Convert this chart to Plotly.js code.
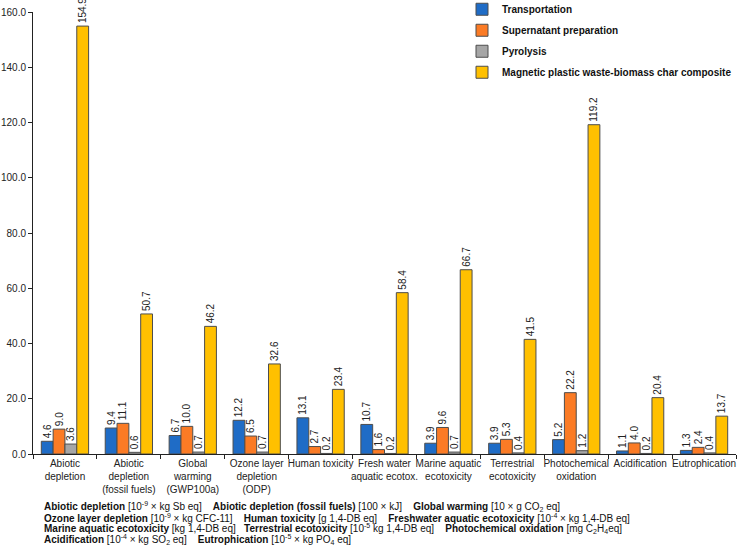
<!DOCTYPE html>
<html>
<head>
<meta charset="utf-8">
<script src="https://cdn.plot.ly/plotly-3.0.1.min.js"></script>
<style>html,body{margin:0;padding:0;background:#fff}#chart{width:738px;height:556px}</style>
</head>
<body>
<div id="chart"></div>
<script>
const categories = [
  "Abiotic<br>depletion",
  "Abiotic<br>depletion<br>(fossil fuels)",
  "Global<br>warming<br>(GWP100a)",
  "Ozone layer<br>depletion<br>(ODP)",
  "Human toxicity",
  "Fresh water<br>aquatic ecotox.",
  "Marine aquatic<br>ecotoxicity",
  "Terrestrial<br>ecotoxicity",
  "Photochemical<br>oxidation",
  "Acidification",
  "Eutrophication"
];
const transportation = [4.6, 9.4, 6.7, 12.2, 13.1, 10.7, 3.9, 3.9, 5.2, 1.1, 1.3];
const supernatant = [9.0, 11.1, 10.0, 6.5, 2.7, 1.6, 9.6, 5.3, 22.2, 4.0, 2.4];
const pyrolysis = [3.6, 0.6, 0.7, 0.7, 0.2, 0.2, 0.7, 0.4, 1.2, 0.2, 0.4];
const composite = [154.9, 50.7, 46.2, 32.6, 23.4, 58.4, 66.7, 41.5, 119.2, 20.4, 13.7];
const seriesNames = ["Transportation", "Supernatant preparation", "Pyrolysis", "Magnetic plastic waste-biomass char composite"];
const yTicks = [0, 20, 40, 60, 80, 100, 120, 140, 160];
const noteLines = [
  "<b>Abiotic depletion</b> [10<sup>-9</sup> × kg Sb eq]\u00a0\u00a0\u00a0 <b>Abiotic depletion (fossil fuels)</b> [100 × kJ]\u00a0\u00a0\u00a0 <b>Global warming</b> [10 × g CO<sub>2</sub> eq]",
  "<b>Ozone layer depletion</b> [10<sup>-9</sup> × kg CFC-11]\u00a0\u00a0\u00a0 <b>Human toxicity</b> [g 1,4-DB eq]\u00a0\u00a0\u00a0 <b>Freshwater aquatic ecotoxicity</b> [10<sup>-4</sup> × kg 1,4-DB eq]",
  "<b>Marine aquatic ecotoxicity</b> [kg 1,4-DB eq]\u00a0\u00a0 <b>Terrestrial ecotoxicity</b> [10<sup>-5</sup> kg 1,4-DB eq]\u00a0\u00a0\u00a0 <b>Photochemical oxidation</b> [mg C<sub>2</sub>H<sub>4</sub>eq]",
  "<b>Acidification</b> [10<sup>-4</sup> × kg SO<sub>2</sub> eq]\u00a0\u00a0\u00a0 <b>Eutrophication</b> [10<sup>-5</sup> × kg PO<sub>4</sub> eq]"
];

const colors = ["#1f6cc6", "#fb7b25", "#a6a6a6", "#ffc000"];
const values = [transportation, supernatant, pyrolysis, composite];
const FONT = "Liberation Sans, Arial, sans-serif";

const traces = values.map((v, i) => ({
  type: "bar",
  name: seriesNames[i],
  x: categories,
  y: v,
  legendgroup: "g" + i,
  marker: {color: colors[i], line: {color: "#4d4d4d", width: 1}},
  text: v.map(d => d.toFixed(1)),
  textposition: "outside",
  textangle: -90,
  constraintext: "none",
  cliponaxis: false,
  textfont: {family: FONT, size: 10, color: "#222"},
  hoverinfo: "x+y+name"
}));

const annotations = noteLines.map((t, i) => ({
  text: t,
  xref: "paper", yref: "paper",
  x: (42 - 33) / 703,
  y: (454 - (506.5 + i * 11)) / 442,
  xanchor: "left", yanchor: "middle",
  align: "left",
  showarrow: false,
  font: {family: FONT, size: 10, color: "#111"}
}));

const layout = {
  width: 738, height: 556,
  margin: {l: 33, r: 2, t: 12, b: 102, autoexpand: false},
  paper_bgcolor: "#fff", plot_bgcolor: "#fff",
  barmode: "group",
  bargap: 0.26,
  bargroupgap: 0,
  font: {family: FONT, size: 10, color: "#222"},
  showlegend: true,
  legend: {
    x: (462 - 33) / 703, y: 1.039, xanchor: "left", yanchor: "top",
    font: {family: FONT, size: 10, color: "#111", weight: "bold"},
    tracegroupgap: 2,
    bgcolor: "rgba(0,0,0,0)",
    itemclick: false
  },
  xaxis: {
    type: "category",
    showline: true, linecolor: "#222", linewidth: 1,
    ticks: "outside", tickson: "boundaries", ticklen: 4, tickcolor: "#222",
    tickfont: {family: FONT, size: 10, color: "#222"},
    tickangle: 0,
    showgrid: false, zeroline: false
  },
  yaxis: {
    range: [0, 160],
    tickvals: yTicks,
    ticktext: yTicks.map(t => t.toFixed(1)),
    showline: true, linecolor: "#222", linewidth: 1,
    ticks: "outside", ticklen: 4, tickcolor: "#222",
    tickfont: {family: FONT, size: 10, color: "#222"},
    showgrid: false, zeroline: false
  },
  annotations: annotations
};

Plotly.newPlot("chart", traces, layout, {displayModeBar: false, staticPlot: true});
</script>
</body>
</html>
